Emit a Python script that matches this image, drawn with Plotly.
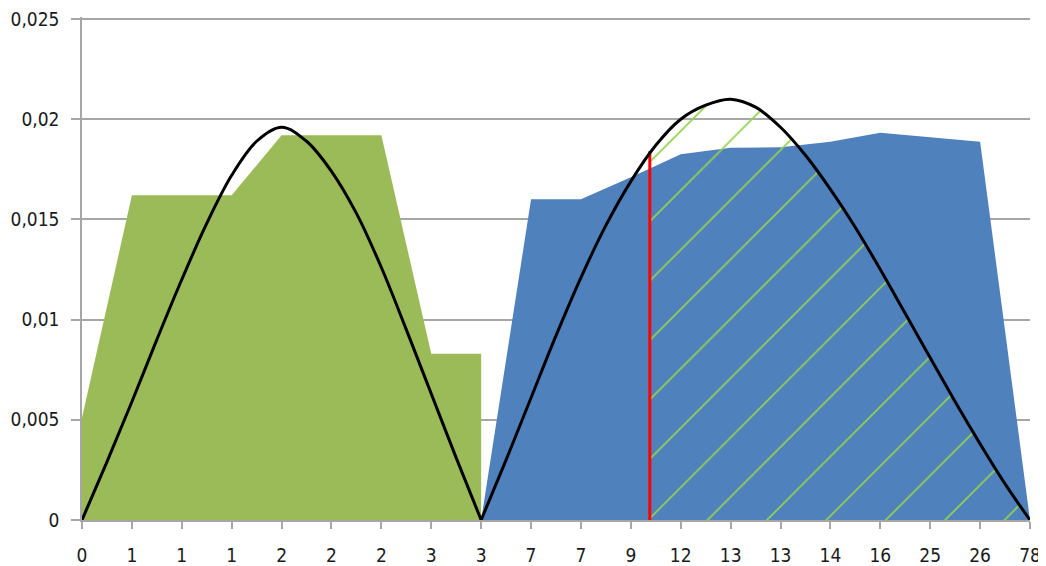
import plotly.graph_objects as go

# category labels (x axis)
categories = ["0", "1", "1", "1", "2", "2", "2", "3", "3", "7", "7", "9",
              "12", "13", "13", "14", "16", "25", "26", "78"]
positions = list(range(len(categories)))

# green area series (categories 0..8)
green_x = positions[0:9]
green_values = [0.0051, 0.0162, 0.0162, 0.0162, 0.0192, 0.0192, 0.0192, 0.0083, 0.0083]

# blue area series (categories 8..19)
blue_x = positions[8:20]
blue_values = [0.0, 0.0160, 0.0160, 0.0171, 0.01825, 0.01858, 0.0186, 0.01888,
               0.01933, 0.0191, 0.01888, 0.0]

# black curves, read at half-category steps
curve1_x = [0, 0.5, 1, 1.5, 2, 2.5, 3, 3.5, 4, 4.5, 5, 5.5, 6, 6.5, 7, 7.5, 8]
curve1_values = [0.0, 0.0029, 0.0059, 0.0090, 0.0120, 0.0148, 0.0172, 0.0189, 0.0196,
                 0.0189, 0.0174, 0.0153, 0.0126, 0.0095, 0.0063, 0.0031, 0.0]
curve2_x = [8, 8.5, 9, 9.5, 10, 10.5, 11, 11.5, 12, 12.5, 13, 13.5, 14, 14.5,
            15, 15.5, 16, 16.5, 17, 17.5, 18, 18.5, 19]
curve2_values = [0.0, 0.0030, 0.0061, 0.0092, 0.0121, 0.0147, 0.0169, 0.0187, 0.0200,
                 0.0207, 0.0210, 0.0206, 0.0196, 0.0182, 0.0165, 0.0146, 0.0125,
                 0.0103, 0.0081, 0.0059, 0.0038, 0.0018, 0.0]

# red cut-off line (position between categories 11 and 12)
cut_x = 11.38
cut_value = 0.0184

# hatched region: from cut-off to the end, under curve 2
hatch_x = [cut_x] + curve2_x[7:]
hatch_values = [cut_value] + curve2_values[7:]

y_ticks = [0, 0.005, 0.01, 0.015, 0.02, 0.025]
y_ticktext = ["0", "0,005", "0,01", "0,015", "0,02", "0,025"]

fig = go.Figure()
fig.add_trace(go.Scatter(x=green_x, y=green_values, mode="lines", line=dict(width=0),
                         fill="tozeroy", fillcolor="#9BBB59", hoverinfo="skip"))
fig.add_trace(go.Scatter(x=blue_x, y=blue_values, mode="lines", line=dict(width=0),
                         fill="tozeroy", fillcolor="#4F81BD", hoverinfo="skip"))
fig.add_trace(go.Scatter(x=hatch_x, y=hatch_values, mode="lines",
                         line=dict(width=0, shape="spline", smoothing=1.0),
                         fill="tozeroy", fillcolor="rgba(0,0,0,0)",
                         fillpattern=dict(shape="/", fgcolor="#92D050",
                                          bgcolor="rgba(0,0,0,0)", size=42,
                                          solidity=0.04, fillmode="replace"),
                         hoverinfo="skip"))
fig.add_trace(go.Scatter(x=[cut_x, cut_x], y=[0, cut_value], mode="lines",
                         line=dict(color="#FF0000", width=3)))
fig.add_trace(go.Scatter(x=curve1_x, y=curve1_values, mode="lines",
                         line=dict(color="#000000", width=3, shape="spline", smoothing=1.0)))
fig.add_trace(go.Scatter(x=curve2_x, y=curve2_values, mode="lines",
                         line=dict(color="#000000", width=3, shape="spline", smoothing=1.0)))

font_family = "DejaVu Sans Condensed, Liberation Sans, sans-serif"
fig.update_layout(
    width=1038, height=558,
    margin=dict(l=74, r=16, t=9, b=46),
    paper_bgcolor="white", plot_bgcolor="white",
    showlegend=False,
    font=dict(family=font_family, size=19, color="#1a1a1a"),
)
fig.update_xaxes(
    range=[0, 19], tickvals=positions, ticktext=categories,
    showgrid=False, zeroline=False, automargin=False,
    showline=True, linecolor="#A6A6A6", linewidth=1.5,
    ticks="outside", ticklen=7, tickcolor="#A6A6A6", tickwidth=1.5,
    ticklabelstandoff=10, ticklabeloverflow="allow",
)
fig.update_yaxes(
    range=[0, 0.0251], tickvals=y_ticks, ticktext=y_ticktext,
    showgrid=True, gridcolor="#A6A6A6", gridwidth=1.5, zeroline=False,
    automargin=False,
    showline=True, linecolor="#A6A6A6", linewidth=1.5,
    ticks="outside", ticklen=9, tickcolor="#A6A6A6", tickwidth=1.5,
    ticklabelstandoff=8, ticklabeloverflow="allow",
)

fig.write_html("out.html")
